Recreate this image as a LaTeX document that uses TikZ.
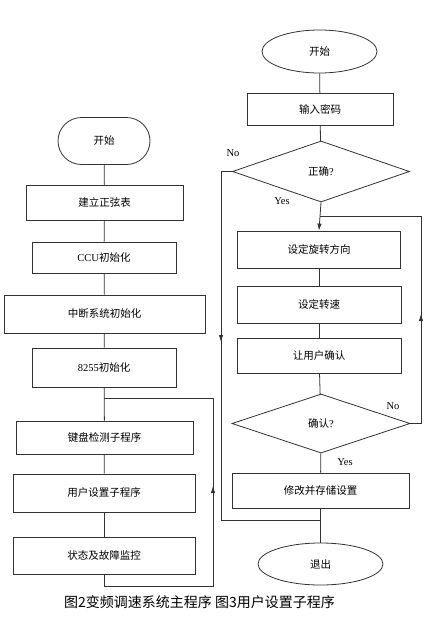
\documentclass[tikz,border=0pt]{standalone}
\usepackage{fontspec}
\setmainfont{Noto Sans CJK SC}
\newfontfamily\latinfont{Liberation Serif}
\usetikzlibrary{arrows.meta,shapes.geometric,shapes.misc}

\begin{document}
\begin{tikzpicture}[
  x=1pt, y=-1pt,
  font=\fontsize{10.5}{12}\selectfont,
  box/.style={draw=black!80, line width=0.8pt, align=center, inner sep=0pt, fill=white},
  term/.style={draw=black!80, line width=0.8pt, ellipse, inner sep=0pt, fill=white},
  stadium/.style={draw=black!80, line width=0.8pt, rounded rectangle, inner sep=0pt, fill=white},
  decide/.style={draw=black!80, line width=0.8pt, diamond, inner sep=0pt, fill=white},
  flow/.style={draw=black!80, line width=0.8pt},
  tip/.style={draw=black!80, line width=0.8pt, -{Latex[length=7pt,width=4.5pt]}},
  lbl/.style={font=\latinfont\fontsize{10.5}{12}\selectfont}
]
\useasboundingbox (0,0) rectangle (431,624);

% main program (left)
\node[stadium, minimum width=92pt, minimum height=47pt] (start1) at (104,141) {开始};
\node[box, minimum width=157pt, minimum height=35pt] (sine) at (104.5,202.5) {建立正弦表};
\node[box, minimum width=144pt, minimum height=31pt] (ccu) at (104,257.5) {{\latinfont CCU}初始化};
\node[box, minimum width=201pt, minimum height=38pt] (intr) at (104.5,314) {中断系统初始化};
\node[box, minimum width=144pt, minimum height=39pt] (ppi) at (104,367.5) {{\latinfont 8255}初始化};
\node[box, minimum width=177pt, minimum height=33pt] (keys) at (104.5,437.5) {键盘检测子程序};
\node[box, minimum width=182pt, minimum height=38pt] (user) at (104,493) {用户设置子程序};
\node[box, minimum width=182pt, minimum height=37pt] (stat) at (104,555.5) {状态及故障监控};

\draw[flow] (start1) -- (sine);
\draw[flow] (sine) -- (ccu);
\draw[flow] (ccu) -- (intr);
\draw[flow] (intr) -- (ppi);
\draw[flow] (ppi) -- (keys);
\draw[flow] (keys) -- (user);
\draw[flow] (user) -- (stat);

\coordinate (loopA) at (104,398);
\coordinate (loopB) at (104,586);
\coordinate (loopC) at (213,586);
\coordinate (loopD) at (213,398);
\coordinate (loopM) at (213,486);
\draw[flow] (stat.south) -- (loopB) -- (loopC) -- (loopD) -- (loopA);
\draw[tip] (loopC) -- (loopM);

% user setting subroutine (right)
\node[term, minimum width=115pt, minimum height=43pt] (start2) at (319.5,51.5) {开始};
\node[box, minimum width=146pt, minimum height=32pt] (pwd) at (320,109) {输入密码};
\node[decide, minimum width=177pt, minimum height=61pt] (ok) at (321,171.5) {正确{\latinfont ?}};
\node[box, minimum width=163pt, minimum height=37pt] (dir) at (319,249.5) {设定旋转方向};
\node[box, minimum width=164pt, minimum height=37pt] (speed) at (319,304.5) {设定转速};
\node[box, minimum width=164pt, minimum height=35pt] (ask) at (319,355.5) {让用户确认};
\node[decide, minimum width=178pt, minimum height=59pt] (conf) at (321,423.5) {确认{\latinfont ?}};
\node[box, minimum width=177pt, minimum height=35pt] (save) at (320.5,490.5) {修改并存储设置};
\node[term, minimum width=125pt, minimum height=42pt] (quit) at (320.5,564) {退出};

\draw[flow] (start2) -- (pwd);
\draw[flow] (pwd) -- (ok);
\draw[tip] (ok.south) -- (dir.north);
\draw[flow] (dir) -- (speed);
\draw[flow] (speed) -- (ask);
\draw[flow] (ask) -- (conf);
\draw[flow] (conf) -- (save);
\draw[flow] (save) -- (quit);

\coordinate (noA) at (221,171.5);
\coordinate (noB) at (221,520);
\coordinate (noC) at (320.5,520);
\coordinate (noM) at (221,342);
\draw[flow] (ok.west) -- (noA) -- (noB) -- (noC);
\draw[tip] (noA) -- (noM);

\coordinate (reA) at (421,423.5);
\coordinate (reB) at (421,216);
\coordinate (reC) at (320,216);
\coordinate (reM) at (421,314);
\draw[flow] (conf.east) -- (reA) -- (reB) -- (reC);
\draw[tip] (reA) -- (reM);

\node[lbl] (no1) at (233,153) {No};
\node[lbl] (yes1) at (282,201) {Yes};
\node[lbl] (no2) at (393,406) {No};
\node[lbl] (yes2) at (345,462) {Yes};

% captions
\node[font=\fontsize{14}{16}\selectfont] (cap) at (199.5,602) {图2变频调速系统主程序\ 图3用户设置子程序};
\end{tikzpicture}
\end{document}
